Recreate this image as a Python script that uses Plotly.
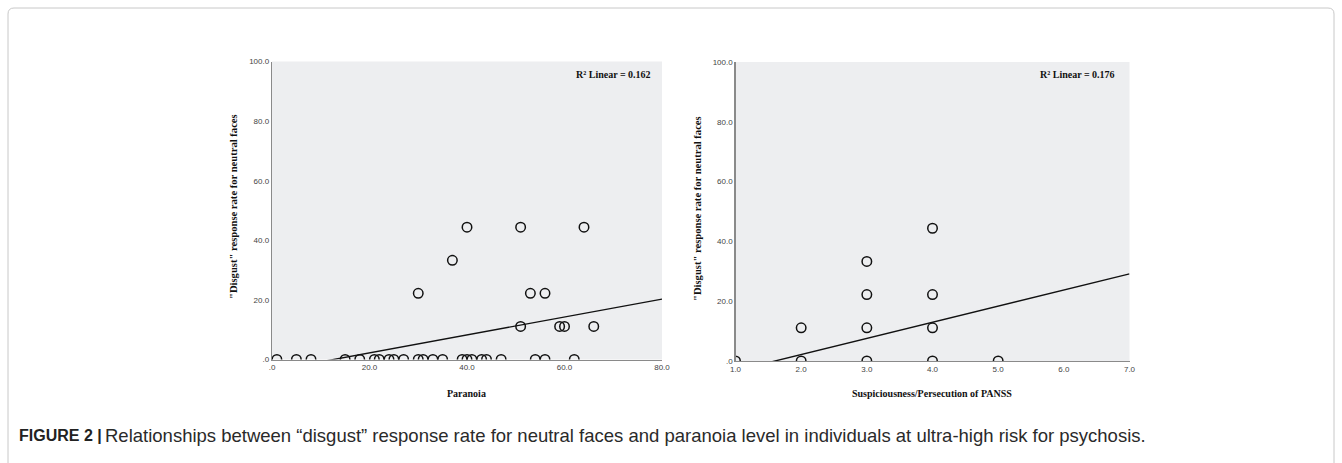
import plotly.graph_objects as go

W, H = 1342, 463

# ---------------- data ----------------
paranoia = [1, 5, 8, 15, 18, 21, 22, 24, 25, 27, 30, 31, 33, 35, 39, 40, 41, 43,
            44, 47, 54, 56, 62,
            30, 37, 40, 51, 51, 53, 56, 64, 59, 60, 66]
disgust_left = [0, 0, 0, 0, 0, 0, 0, 0, 0, 0, 0, 0, 0, 0, 0, 0, 0, 0,
                0, 0, 0, 0, 0,
                22.2, 33.3, 44.4, 44.4, 11.1, 22.2, 22.2, 44.4, 11.1, 11.1, 11.1]

suspiciousness = [1, 2, 2, 3, 3, 3, 3, 4, 4, 4, 4, 5]
disgust_right = [0, 0, 11.1, 0, 11.1, 22.2, 33.3, 0, 11.1, 22.2, 44.4, 0]

# linear fit (intercept, slope) as drawn in the picture
fit_left = [-3.8, 0.301]
fit_right = [-8.64, 5.4]

r2_left = "0.162"
r2_right = "0.176"

y_ticks = [0, 20, 40, 60, 80, 100]
y_ticktext = [".0", "20.0", "40.0", "60.0", "80.0", "100.0"]
xl_ticks = [0, 20, 40, 60, 80]
xl_ticktext = [".0", "20.0", "40.0", "60.0", "80.0"]
xr_ticks = [1, 2, 3, 4, 5, 6, 7]
xr_ticktext = ["1.0", "2.0", "3.0", "4.0", "5.0", "6.0", "7.0"]

y_title = "\"Disgust\" response rate for neutral faces"
xl_title = "Paranoia"
xr_title = "Suspiciousness/Persecution of PANSS"
caption_bold = "FIGURE 2 |"
caption_text = ("Relationships between \u201cdisgust\u201d response rate for neutral faces "
                "and paranoia level in individuals at ultra-high risk for psychosis.")

# ---------------- layout helpers ----------------
def fx(x):
    return x / W

def fy(y):
    return 1 - y / H

XL_RANGE = [0, 80]
XR_RANGE = [1, 7]
Y_RANGE = [0, 100]

fig = go.Figure()

marker_style = dict(symbol="circle-open", size=9.5, color="#111111",
                    line=dict(width=1.5, color="#111111"))

fig.add_trace(go.Scatter(x=paranoia, y=disgust_left, mode="markers",
                         marker=marker_style, xaxis="x", yaxis="y",
                         showlegend=False, hoverinfo="skip"))
fig.add_trace(go.Scatter(x=XL_RANGE,
                         y=[fit_left[0] + fit_left[1] * v for v in XL_RANGE],
                         mode="lines", line=dict(color="#111111", width=1.4),
                         xaxis="x", yaxis="y", showlegend=False, hoverinfo="skip"))

fig.add_trace(go.Scatter(x=suspiciousness, y=disgust_right, mode="markers",
                         marker=marker_style, xaxis="x2", yaxis="y2",
                         showlegend=False, hoverinfo="skip"))
fig.add_trace(go.Scatter(x=XR_RANGE,
                         y=[fit_right[0] + fit_right[1] * v for v in XR_RANGE],
                         mode="lines", line=dict(color="#111111", width=1.4),
                         xaxis="x2", yaxis="y2", showlegend=False, hoverinfo="skip"))

tick_font = dict(family="Liberation Sans, Arial, sans-serif", size=8, color="#444444")
axis_common = dict(showgrid=False, zeroline=False, showline=True,
                   linecolor="#8a8a8a", linewidth=1.2, ticks="",
                   tickfont=tick_font, automargin=False, fixedrange=True)

fig.update_layout(
    width=W, height=H,
    margin=dict(l=0, r=0, t=0, b=0),
    template="none",
    paper_bgcolor="white",
    plot_bgcolor="#edeef0",
    xaxis=dict(domain=[fx(272), fx(662)], range=XL_RANGE, anchor="y",
               tickvals=xl_ticks, ticktext=xl_ticktext, **axis_common),
    yaxis=dict(domain=[fy(359.5), fy(61.5)], range=Y_RANGE, anchor="x",
               tickvals=y_ticks, ticktext=y_ticktext, **axis_common),
    xaxis2=dict(domain=[fx(735.5), fx(1129.5)], range=XR_RANGE, anchor="y2",
                tickvals=xr_ticks, ticktext=xr_ticktext, **axis_common),
    yaxis2=dict(domain=[fy(361), fy(62)], range=Y_RANGE, anchor="x2",
                tickvals=y_ticks, ticktext=y_ticktext, **axis_common),
)

title_font = dict(family="Liberation Serif, Times New Roman, serif", size=10, color="#111111")
ytitle_font = dict(family="Liberation Serif, Times New Roman, serif", size=10.6, color="#111111")

annotations = [
    # y titles
    dict(text="<b>" + y_title + "</b>", x=fx(233), y=fy(207), xref="paper", yref="paper",
         textangle=-90, showarrow=False, font=ytitle_font, xanchor="center", yanchor="middle"),
    dict(text="<b>" + y_title + "</b>", x=fx(697), y=fy(209), xref="paper", yref="paper",
         textangle=-90, showarrow=False, font=ytitle_font, xanchor="center", yanchor="middle"),
    # x titles
    dict(text="<b>" + xl_title + "</b>", x=fx(467), y=fy(393), xref="paper", yref="paper",
         showarrow=False, font=title_font, xanchor="center", yanchor="middle"),
    dict(text="<b>" + xr_title + "</b>", x=fx(932), y=fy(393), xref="paper", yref="paper",
         showarrow=False, font=title_font, xanchor="center", yanchor="middle"),
    # R^2 labels
    dict(text="<b>R\u00b2 Linear = " + r2_left + "</b>", x=fx(653), y=fy(75),
         xref="paper", yref="paper", showarrow=False, font=title_font,
         xanchor="right", yanchor="middle"),
    dict(text="<b>R\u00b2 Linear = " + r2_right + "</b>", x=fx(1117), y=fy(75),
         xref="paper", yref="paper", showarrow=False, font=title_font,
         xanchor="right", yanchor="middle"),
    # caption
    dict(text="<b>" + caption_bold + "</b>", x=fx(17), y=fy(435.5),
         xref="paper", yref="paper", showarrow=False,
         font=dict(family="Liberation Sans, Arial, sans-serif",
                   size=16, color="#222222"),
         xanchor="left", yanchor="middle"),
    dict(text=caption_text, x=fx(103), y=fy(435),
         xref="paper", yref="paper", showarrow=False,
         font=dict(family="Liberation Sans, Arial, sans-serif", size=18.5, color="#2a2a2a"),
         xanchor="left", yanchor="middle"),
]
fig.update_layout(annotations=annotations)

# outer rounded frame
x0, x1, y0, y1 = fx(8), fx(1334), fy(8), fy(480)
rx, ry = fx(6), 6 / H
frame = (f"M {x0+rx} {y0} L {x1-rx} {y0} Q {x1} {y0} {x1} {y0-ry} "
         f"L {x1} {y1+ry} Q {x1} {y1} {x1-rx} {y1} L {x0+rx} {y1} "
         f"Q {x0} {y1} {x0} {y1+ry} L {x0} {y0-ry} Q {x0} {y0} {x0+rx} {y0} Z")
fig.update_layout(shapes=[dict(type="path", path=frame, xref="paper", yref="paper",
                               line=dict(color="#c8c8c8", width=1), layer="below")])

fig.write_html("out.html", config={"displayModeBar": False, "staticPlot": True},
               post_script="document.body.style.margin='0px';document.body.style.overflow='hidden';")
